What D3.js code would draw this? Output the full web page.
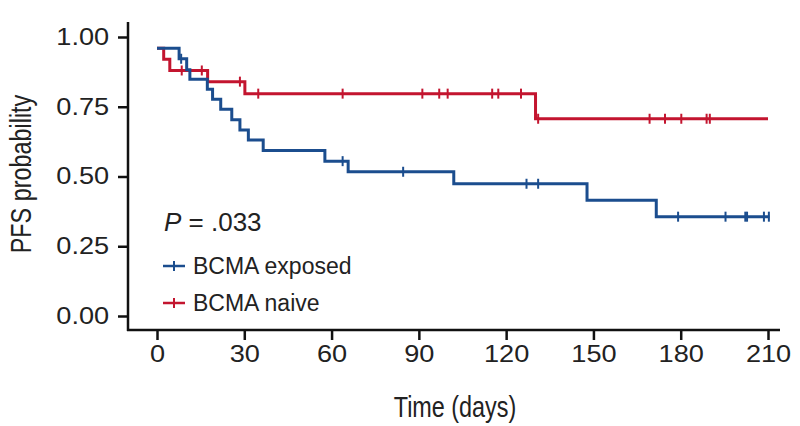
<!DOCTYPE html>
<html>
<head>
<meta charset="utf-8">
<script src="https://cdn.jsdelivr.net/npm/d3@7"></script>
<style>
  body { margin: 0; background: #fff; }
  svg { display: block; }
  .tick text { font-family: "Liberation Sans", Arial, sans-serif; fill: #222; }
</style>
</head>
<body>
<svg id="km" width="800" height="426"></svg>
<script>
// BCMA exposed
var exposedTime = [0, 7.6, 10.2, 11.3, 17.3, 19.1, 21.9, 25.7, 28.5, 31.4, 36.5, 57.7, 65.7, 102, 147.8, 171.6];
var exposedSurv = [0.96, 0.922, 0.883, 0.849, 0.813, 0.777, 0.741, 0.703, 0.667, 0.631, 0.593, 0.555, 0.517, 0.474, 0.415, 0.356];
var exposedEnd = 210.5;
var exposedCensor = [8.3, 63.8, 84.6, 127, 131, 179.1, 195.4, 202.2, 202.8, 208.6, 210.3];

// BCMA naive
var naiveTime = [0, 2.3, 4.4, 17.4, 30.2, 130.1];
var naiveSurv = [0.96, 0.92, 0.88, 0.84, 0.797, 0.707];
var naiveEnd = 210;
var naiveCensor = [8.5, 15.4, 28.5, 34.8, 63.8, 91.2, 97, 99.9, 115.2, 117.3, 125.1, 131, 169.3, 174.6, 180.2, 188.9, 190];

var xTicks = [0, 30, 60, 90, 120, 150, 180, 210];
var yTicks = [0, 0.25, 0.5, 0.75, 1];

var blue = "#1b4d8e";
var red = "#c3152f";

var svg = d3.select("#km");

var x = d3.scaleLinear().domain([0, 210]).range([157, 768]);
var y = d3.scaleLinear().domain([0, 1]).range([316, 37]);

// axes
var yAxis = svg.append("g")
    .attr("transform", "translate(128,0)")
    .call(d3.axisLeft(y).tickValues(yTicks).tickFormat(d3.format(".2f")).tickSize(10).tickPadding(6));
var xAxis = svg.append("g")
    .attr("transform", "translate(0,330)")
    .call(d3.axisBottom(x).tickValues(xTicks).tickSize(10).tickPadding(6));

[yAxis, xAxis].forEach(function (g) {
    g.select(".domain").remove();
    g.selectAll(".tick line").attr("stroke", "#111").attr("stroke-width", 2.5);
    g.selectAll(".tick text").attr("font-size", 23).attr("transform", "scale(1.18,1)");
});

svg.append("line").attr("x1", 128).attr("x2", 128).attr("y1", 22).attr("y2", 331)
    .attr("stroke", "#111").attr("stroke-width", 2.5);
svg.append("line").attr("x1", 127).attr("x2", 780).attr("y1", 330).attr("y2", 330)
    .attr("stroke", "#111").attr("stroke-width", 2.5);

// titles (condensed look via horizontal squeeze)
svg.append("text")
    .attr("transform", "translate(455,417) scale(0.78,1)")
    .attr("text-anchor", "middle")
    .attr("font-family", "Liberation Sans, Arial, sans-serif")
    .attr("font-size", 30)
    .attr("fill", "#222")
    .text("Time (days)");
svg.append("text")
    .attr("transform", "translate(31,174) rotate(-90) scale(0.78,1)")
    .attr("text-anchor", "middle")
    .attr("font-family", "Liberation Sans, Arial, sans-serif")
    .attr("font-size", 30)
    .attr("fill", "#222")
    .text("PFS probability");

// curves
var line = d3.line()
    .x(function (d) { return x(d[0]); })
    .y(function (d) { return y(d[1]); })
    .curve(d3.curveStepAfter);

function survAt(times, surv, t) {
    var s = surv[0];
    for (var i = 0; i < times.length; i++) {
        if (times[i] <= t) s = surv[i];
    }
    return s;
}

function drawCurve(times, surv, end, censor, col) {
    var pts = times.map(function (t, i) { return [t, surv[i]]; });
    pts.push([end, surv[surv.length - 1]]);
    svg.append("path")
        .attr("d", line(pts))
        .attr("fill", "none")
        .attr("stroke", col)
        .attr("stroke-width", 3);
    svg.selectAll(null)
        .data(censor)
        .enter().append("line")
        .attr("x1", function (d) { return x(d); })
        .attr("x2", function (d) { return x(d); })
        .attr("y1", function (d) { return y(survAt(times, surv, d)) - 5; })
        .attr("y2", function (d) { return y(survAt(times, surv, d)) + 5; })
        .attr("stroke", col)
        .attr("stroke-width", 2);
}

drawCurve(naiveTime, naiveSurv, naiveEnd, naiveCensor, red);
drawCurve(exposedTime, exposedSurv, exposedEnd, exposedCensor, blue);

// p value
var pText = svg.append("text")
    .attr("x", 164).attr("y", 231)
    .attr("font-family", "Liberation Sans, Arial, sans-serif")
    .attr("font-size", 26)
    .attr("fill", "#222");
pText.append("tspan").attr("font-style", "italic").text("P");
pText.append("tspan").text(" = .033");

// legend
var legend = [
    {label: "BCMA exposed", col: blue},
    {label: "BCMA naive", col: red}
];
var lg = svg.selectAll(".leg")
    .data(legend)
    .enter().append("g")
    .attr("class", "leg")
    .attr("transform", function (d, i) { return "translate(163," + (266 + i * 37) + ")"; });
lg.append("line").attr("x1", 0).attr("x2", 22).attr("y1", 0).attr("y2", 0)
    .attr("stroke", function (d) { return d.col; }).attr("stroke-width", 2.5);
lg.append("line").attr("x1", 11).attr("x2", 11).attr("y1", -5).attr("y2", 5)
    .attr("stroke", function (d) { return d.col; }).attr("stroke-width", 2);
lg.append("text")
    .attr("x", 30).attr("y", 8)
    .attr("font-family", "Liberation Sans, Arial, sans-serif")
    .attr("font-size", 23)
    .attr("fill", "#222")
    .text(function (d) { return d.label; });
</script>
</body>
</html>
